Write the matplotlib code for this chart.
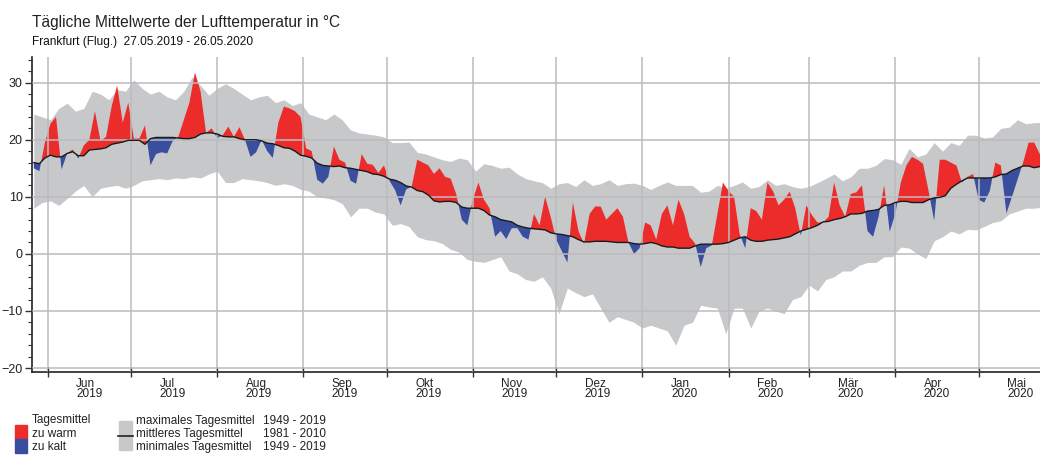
import numpy as np
import matplotlib
matplotlib.use('Agg')
import matplotlib.pyplot as plt
import matplotlib.dates as mdates
import matplotlib.ticker as mticker
from matplotlib.patches import Rectangle
from matplotlib.lines import Line2D

plt.rcParams['font.family'] = ['Liberation Sans', 'DejaVu Sans']

start = np.datetime64('2019-05-27')

band_max = [
    24.5, 24.0, 23.5, 25.5, 26.4, 25.0, 25.5, 28.5, 28.0, 27.0,
    28.8, 28.5, 30.5, 29.0, 28.0, 28.5, 27.5, 27.0, 28.5, 31.0,
    29.5, 27.8, 29.0, 29.8, 29.0, 28.0, 27.0, 27.5, 27.8, 26.5,
    27.0, 26.0, 26.5, 24.5, 24.0, 23.5, 24.5, 23.5, 21.7, 21.2,
    21.0, 20.8, 20.5, 19.5, 19.5, 19.6, 17.8, 17.5, 17.0, 16.5,
    16.2, 16.8, 16.5, 14.5, 15.8, 15.5, 15.0, 15.2, 14.0, 13.2,
    12.8, 12.5, 11.5, 12.3, 12.5, 11.8, 13.0, 12.0, 12.3, 13.0,
    12.0, 12.3, 12.4, 12.0, 11.3, 12.0, 12.6, 12.0, 12.0, 12.0,
    10.8, 11.0, 12.0, 11.5, 12.0, 12.6, 11.5, 11.8, 13.0, 12.0,
    12.3, 11.8, 11.5, 11.8, 12.5, 13.2, 14.0, 12.8, 13.5, 15.0,
    15.0, 15.5, 16.7, 16.5, 15.7, 18.5, 17.0, 17.5, 19.5, 18.0,
    19.5, 19.0, 20.8, 20.8, 20.3, 20.5, 22.0, 22.2, 23.5, 22.8,
    23.0, 23.0,
]
band_min = [
    8.0, 9.0, 9.3, 8.5, 9.7, 11.0, 12.0, 10.0, 11.5, 11.8,
    12.0, 11.5, 12.0, 12.8, 13.0, 13.2, 13.0, 13.3, 13.2, 13.5,
    13.3, 14.0, 14.5, 12.5, 12.5, 13.2, 13.0, 12.8, 12.5, 12.0,
    12.3, 12.0, 11.3, 11.0, 10.0, 9.8, 9.5, 8.8, 6.5, 8.0,
    8.0, 7.3, 7.0, 5.0, 5.3, 4.8, 3.0, 2.5, 2.3, 1.8,
    0.8, 0.3, -1.0, -1.3, -1.5, -1.0, -0.5, -3.0, -3.5, -4.5,
    -4.8, -4.0, -6.0, -10.5, -6.0, -6.8, -7.5, -7.0, -9.5, -12.0,
    -11.0, -11.5, -12.0, -13.0, -12.5, -13.0, -13.5, -16.0, -12.5, -12.0,
    -9.0, -9.3, -9.5, -14.0, -9.5, -9.5, -13.0, -10.0, -9.5, -10.0,
    -10.5, -8.0, -7.5, -5.5, -6.5, -4.5, -4.0, -3.0, -3.0, -2.0,
    -1.5, -1.5, -0.5, -0.5, 1.2, 1.0, 0.0, -0.8, 2.3, 3.0,
    4.0, 3.5, 4.3, 4.2, 4.8, 5.5, 5.8, 7.0, 7.5, 8.0,
    8.0, 8.2,
]

# mittleres Tagesmittel 1981-2010 und Tagesmittel 2019/20, alle 2 Tage
mean_temp = [
    16.0, 15.8, 16.8, 17.3, 17.0, 17.0, 17.6, 17.9, 17.2, 17.2,
    18.2, 18.3, 18.4, 18.6, 19.2, 19.4, 19.6, 19.9, 19.9, 19.9,
    19.2, 20.2, 20.4, 20.4, 20.4, 20.4, 20.3, 20.2, 20.2, 20.4,
    21.0, 21.2, 21.2, 21.0, 20.6, 20.5, 20.5, 20.2, 20.0, 20.0,
    20.0, 19.8, 19.4, 19.3, 19.0, 18.6, 18.5, 18.0, 17.3, 17.1,
    16.8, 15.9, 15.5, 15.4, 15.3, 15.4, 15.1, 15.0, 14.8, 14.6,
    14.4, 14.0, 13.9, 13.6, 13.1, 12.9, 12.5, 11.9, 11.7, 11.1,
    10.9, 10.3, 9.3, 9.1, 9.2, 9.2, 9.0, 8.2, 8.0, 8.0,
    8.0, 7.6, 6.8, 6.5, 6.0, 5.8, 5.6, 5.0, 4.7, 4.5,
    4.4, 4.3, 4.2, 3.7, 3.5, 3.4, 3.2, 3.0, 2.5, 2.1,
    2.1, 2.2, 2.2, 2.2, 2.1, 2.0, 2.0, 2.0, 1.8, 1.7,
    1.8, 2.0, 1.8, 1.4, 1.2, 1.2, 1.0, 1.0, 1.0, 1.4,
    1.7, 1.7, 1.7, 1.7, 1.8, 2.0, 2.4, 2.8, 3.0, 2.4,
    2.2, 2.2, 2.4, 2.5, 2.6, 2.8, 3.0, 3.5, 4.0, 4.3,
    4.6, 5.0, 5.6, 5.7, 6.0, 6.2, 6.5, 7.0, 7.0, 7.1,
    7.5, 7.6, 7.8, 8.5, 8.6, 9.0, 9.2, 9.2, 9.0, 9.0,
    9.0, 9.5, 9.8, 9.9, 10.2, 11.5, 12.2, 12.8, 13.3, 13.3,
    13.3, 13.3, 13.3, 13.5, 13.9, 14.0, 14.6, 15.0, 15.4, 15.4,
    15.1, 15.3, 15.5,
]
actual = [
    15.0, 14.5, 19.5, 22.8, 24.0, 14.8, 17.6, 18.3, 16.7, 19.0,
    20.0, 25.0, 19.8, 20.5, 25.8, 29.5, 23.0, 26.5, 20.2, 20.2,
    22.5, 15.5, 17.5, 17.8, 17.6, 19.8, 20.5, 23.5, 26.5, 31.8,
    28.5, 21.2, 22.0, 20.3, 20.8, 22.3, 20.5, 22.2, 20.0, 17.0,
    17.8, 20.0, 18.0, 16.8, 23.0, 25.8, 25.5, 25.0, 24.0, 18.5,
    18.0, 13.0, 12.3, 13.5, 18.8, 16.5, 16.0, 12.8, 12.3, 17.5,
    15.8, 15.6, 14.2, 15.5, 12.8, 11.2, 8.5, 11.3, 11.8, 16.5,
    16.0, 15.5, 14.0, 15.0, 13.5, 13.2, 10.5, 6.0, 5.0, 9.5,
    12.5, 9.5, 8.0, 3.0, 4.0, 2.6, 4.5, 4.5, 3.0, 2.5,
    7.0, 5.0, 10.0, 6.5, 2.5, 0.5, -1.5, 9.0, 4.0, 1.8,
    7.0, 8.3, 8.3, 6.0, 7.0, 8.0, 6.5, 2.0, 0.0, 1.0,
    5.5, 5.0, 2.5, 7.0, 8.5, 5.0, 9.5, 7.0, 3.0, 1.8,
    -2.3, 1.0, 1.5, 7.0, 12.5, 11.0, 10.0, 3.5, 1.0, 8.0,
    7.5, 6.0, 12.5, 11.0, 8.5, 9.5, 10.9, 8.0, 3.2, 8.5,
    6.8, 5.5, 5.5, 6.5, 12.5, 8.5, 6.5, 10.5, 10.8, 12.0,
    4.0, 3.0, 6.5, 12.0, 3.9, 7.0, 12.5, 15.5, 17.0, 16.5,
    15.8, 11.0, 5.8, 16.5, 16.5, 16.0, 15.5, 12.5, 13.5, 14.0,
    9.5, 9.0, 11.0, 16.0, 15.5, 7.1, 10.0, 13.0, 16.0, 19.5,
    19.5, 17.5, 16.5,
]

monate = ['Jan', 'Feb', 'Mär', 'Apr', 'Mai', 'Jun', 'Jul', 'Aug', 'Sep', 'Okt', 'Nov', 'Dez']

ROT = '#ec2b2b'
BLAU = '#3a4ea0'
GRAU = '#c7c8ca'

band_days = start + np.arange(len(band_max)) * 3
days = start + np.arange(len(actual)) * 2
mean_temp = np.array(mean_temp)
actual = np.array(actual)

W, H = 1040, 455
fig = plt.figure(figsize=(W / 100, H / 100), dpi=100)
ax = fig.add_axes([32.4 / W, 1 - 372 / H, (1049.5 - 32.4) / W, (372 - 57) / H])

ax.fill_between(band_days, band_min, band_max, color=GRAU, lw=0, zorder=1)
ax.fill_between(days, actual, mean_temp, where=actual >= mean_temp, interpolate=True,
                color=ROT, lw=0, zorder=2)
ax.fill_between(days, actual, mean_temp, where=actual < mean_temp, interpolate=True,
                color=BLAU, lw=0, zorder=2)
ax.grid(True, which='major', color='#bcbcc0', lw=1.3, alpha=0.85, zorder=3)
ax.set_axisbelow(False)
ax.plot(days, mean_temp, color='#1a1a1a', lw=1.0, zorder=4)

ax.set_xlim(start - np.timedelta64(12, 'h'), start + np.timedelta64(365, 'D') + np.timedelta64(12, 'h'))
ax.set_ylim(-20.7, 34.5)

ax.xaxis.set_major_locator(mdates.MonthLocator())
ax.xaxis.set_major_formatter(mticker.NullFormatter())
ax.xaxis.set_minor_locator(mdates.MonthLocator(bymonthday=16))
ax.xaxis.set_minor_formatter(mticker.FuncFormatter(
    lambda x, pos: '%s\n%d' % (monate[mdates.num2date(x).month - 1], mdates.num2date(x).year)))
ax.tick_params(axis='x', which='major', direction='inout', length=7, width=1, color='#333333')
ax.tick_params(axis='x', which='minor', length=0, pad=4, labelsize=8.5, labelcolor='#222222')

ax.yaxis.set_major_locator(mticker.MultipleLocator(10))
ax.yaxis.set_minor_locator(mticker.MultipleLocator(2))
ax.tick_params(axis='y', which='major', length=5, width=1, pad=2, labelsize=9,
               labelcolor='#222222', color='#333333')
ax.tick_params(axis='y', which='minor', length=3, width=0.8, color='#333333')

for s in ['top', 'right']:
    ax.spines[s].set_visible(False)
for s in ['left', 'bottom']:
    ax.spines[s].set_color('#222222')
    ax.spines[s].set_linewidth(1.2)

fig.canvas.draw()
for t in ax.get_xticklabels(minor=True):
    t.set_multialignment('left')
    t.set_linespacing(0.85)

fig.text(32 / W, 1 - 22 / H, 'Tägliche Mittelwerte der Lufttemperatur in °C',
         fontsize=11.2, va='center', color='#222222')
fig.text(32 / W, 1 - 42 / H, 'Frankfurt (Flug.)  27.05.2019 - 26.05.2020',
         fontsize=8.6, va='center', color='#111111')

# Legende
fig.add_artist(Rectangle((15 / W, 1 - 439 / H), 12 / W, 14 / H, color=ROT, transform=fig.transFigure))
fig.add_artist(Rectangle((15 / W, 1 - 453 / H), 12 / W, 14 / H, color=BLAU, transform=fig.transFigure))
fig.add_artist(Rectangle((119 / W, 1 - 450 / H), 13 / W, 29 / H, color=GRAU, transform=fig.transFigure))
fig.add_artist(Line2D([118 / W, 133 / W], [1 - 436 / H] * 2, color='#222222', lw=1.2,
                      transform=fig.transFigure))
for txt, y in [('Tagesmittel', 420), ('zu warm', 434), ('zu kalt', 447)]:
    fig.text(32 / W, 1 - y / H, txt, fontsize=8.5, va='center', color='#222222')
for txt, yrs, y in [('maximales Tagesmittel', '1949 - 2019', 421),
                    ('mittleres Tagesmittel', '1981 - 2010', 434),
                    ('minimales Tagesmittel', '1949 - 2019', 447)]:
    fig.text(136 / W, 1 - y / H, txt, fontsize=8.5, va='center', color='#222222')
    fig.text(263 / W, 1 - y / H, yrs, fontsize=8.5, va='center', color='#222222')

fig.savefig('out.png', dpi=100)
